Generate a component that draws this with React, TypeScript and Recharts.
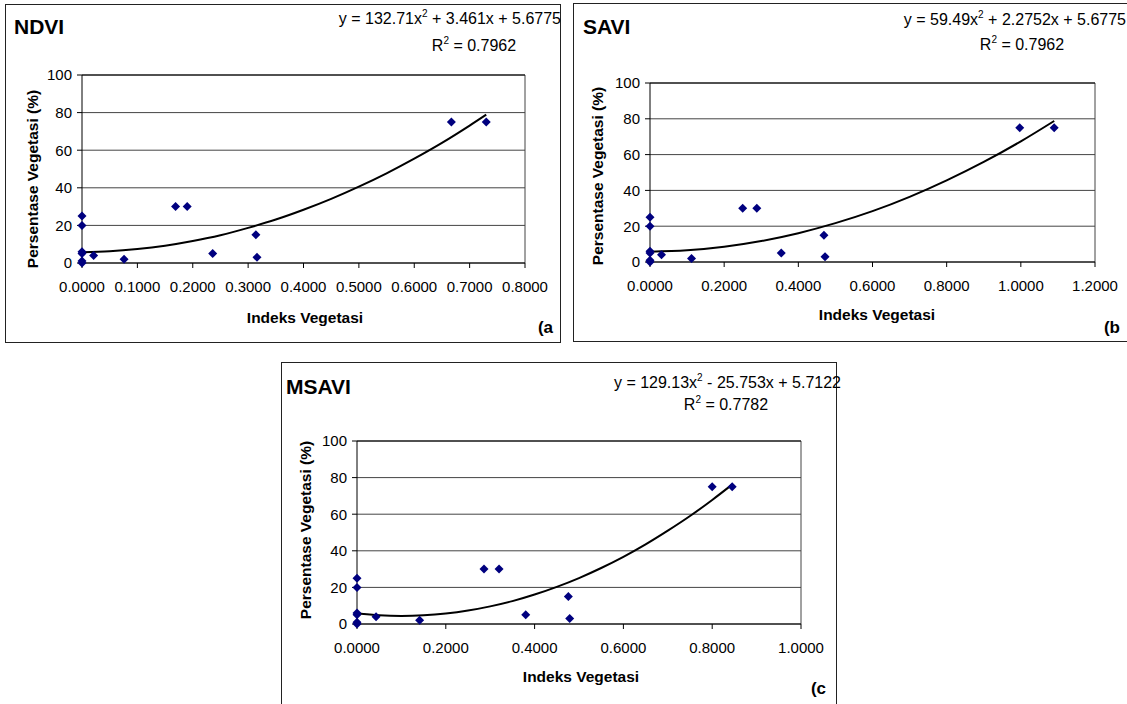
import React from 'react';
import { ScatterChart, Scatter, XAxis, YAxis, CartesianGrid, ReferenceLine } from 'recharts';

// ---------- DATA ----------
const yTicks = [0, 20, 40, 60, 80, 100];

const ndviXTicks = [0, 0.1, 0.2, 0.3, 0.4, 0.5, 0.6, 0.7, 0.8];
const ndviPoints = [
  { x: 0, y: 25 }, { x: 0, y: 20 }, { x: 0, y: 6 }, { x: 0, y: 5 }, { x: 0, y: 1 }, { x: 0, y: 0 },
  { x: 0.021, y: 4 }, { x: 0.076, y: 2 }, { x: 0.169, y: 30 }, { x: 0.19, y: 30 },
  { x: 0.236, y: 5 }, { x: 0.314, y: 15 }, { x: 0.316, y: 3 }, { x: 0.667, y: 75 }, { x: 0.73, y: 75 },
];
const ndviTrend = [
  { x: 0, y: 5.7 }, { x: 0.05, y: 6.2 }, { x: 0.1, y: 7.4 }, { x: 0.15, y: 9.2 }, { x: 0.2, y: 11.7 },
  { x: 0.25, y: 14.8 }, { x: 0.3, y: 18.7 }, { x: 0.35, y: 23.1 }, { x: 0.4, y: 28.3 }, { x: 0.45, y: 34.1 },
  { x: 0.5, y: 40.6 }, { x: 0.55, y: 47.7 }, { x: 0.6, y: 55.5 }, { x: 0.65, y: 63.9 }, { x: 0.7, y: 73.1 },
  { x: 0.73, y: 78.9 },
];

const saviXTicks = [0, 0.2, 0.4, 0.6, 0.8, 1.0, 1.2];
const saviPoints = [
  { x: 0, y: 25 }, { x: 0, y: 20 }, { x: 0, y: 6 }, { x: 0, y: 5 }, { x: 0, y: 1 }, { x: 0, y: 0 },
  { x: 0.031, y: 4 }, { x: 0.112, y: 2 }, { x: 0.25, y: 30 }, { x: 0.288, y: 30 },
  { x: 0.354, y: 5 }, { x: 0.469, y: 15 }, { x: 0.472, y: 3 }, { x: 0.997, y: 75 }, { x: 1.09, y: 75 },
];
const saviTrend = [
  { x: 0, y: 5.7 }, { x: 0.1, y: 6.5 }, { x: 0.2, y: 8.5 }, { x: 0.3, y: 11.7 }, { x: 0.4, y: 16.1 },
  { x: 0.5, y: 21.7 }, { x: 0.6, y: 28.4 }, { x: 0.7, y: 36.4 }, { x: 0.8, y: 45.6 }, { x: 0.9, y: 55.9 },
  { x: 1.0, y: 67.4 }, { x: 1.09, y: 78.8 },
];

const msaviXTicks = [0, 0.2, 0.4, 0.6, 0.8, 1.0];
const msaviPoints = [
  { x: 0, y: 25 }, { x: 0, y: 20 }, { x: 0, y: 6 }, { x: 0, y: 5 }, { x: 0, y: 1 }, { x: 0, y: 0 },
  { x: 0.043, y: 4 }, { x: 0.141, y: 2 }, { x: 0.286, y: 30 }, { x: 0.32, y: 30 },
  { x: 0.38, y: 5 }, { x: 0.476, y: 15 }, { x: 0.479, y: 3 }, { x: 0.8, y: 75 }, { x: 0.845, y: 75 },
];
const msaviTrend = [
  { x: 0, y: 5.7 }, { x: 0.05, y: 4.75 }, { x: 0.1, y: 4.43 }, { x: 0.15, y: 4.76 }, { x: 0.2, y: 5.72 },
  { x: 0.25, y: 7.34 }, { x: 0.3, y: 9.63 }, { x: 0.35, y: 12.5 }, { x: 0.4, y: 16.1 }, { x: 0.45, y: 20.3 },
  { x: 0.5, y: 25.1 }, { x: 0.55, y: 30.6 }, { x: 0.6, y: 36.7 }, { x: 0.65, y: 43.5 }, { x: 0.7, y: 51.0 },
  { x: 0.75, y: 59.0 }, { x: 0.8, y: 67.8 }, { x: 0.845, y: 76.2 },
];

// ---------- STYLE / LAYOUT ----------
const FONT = '"Liberation Sans", Arial, sans-serif';
const NAVY = '#00007F';
const Y_AXIS_W = 60;
const X_AXIS_H = 40;

const Diamond = (props: any) => {
  const { cx, cy } = props;
  if (cx == null || cy == null) return <g />;
  const r = 4.5;
  return <polygon points={`${cx},${cy - r} ${cx + r},${cy} ${cx},${cy + r} ${cx - r},${cy}`} fill={NAVY} />;
};
const NoDot = () => <g />;

type Box = { l: number; t: number; r: number; b: number };

const Txt = ({ x, y, children, size = 15, bold = false, align = 'left', rotate = false }: any) => {
  const base: React.CSSProperties = {
    position: 'absolute',
    fontFamily: FONT,
    fontSize: size,
    fontWeight: bold ? 'bold' : 'normal',
    lineHeight: 1,
    whiteSpace: 'nowrap',
    color: '#000',
  };
  if (rotate) {
    return (
      <div style={{ ...base, left: x, top: y, transform: 'translate(-50%, -50%) rotate(-90deg)' }}>{children}</div>
    );
  }
  let tf = 'translateY(-50%)';
  if (align === 'center') tf = 'translate(-50%, -50%)';
  if (align === 'right') tf = 'translate(-100%, -50%)';
  return <div style={{ ...base, left: x, top: y, transform: tf }}>{children}</div>;
};

const Sq = () => <sup style={{ fontSize: 10, verticalAlign: 'top', position: 'relative', top: -2 }}>2</sup>;

const Panel = ({ frame, plot, xMax, xTicks, points, trend, title, titlePos, eq, eqPos, r2, r2Pos, xTitlePos, yTitlePos, letter, letterPos }: any) => {
  const inner: Box = { l: frame.l + 1, t: frame.t + 1, r: frame.r - 1, b: frame.b - 1 };
  const w = inner.r - inner.l;
  const h = inner.b - inner.t;
  const margin = {
    left: plot.l - inner.l - Y_AXIS_W,
    right: inner.r - plot.r,
    top: plot.t - inner.t,
    bottom: inner.b - plot.b - X_AXIS_H,
  };
  const tick = { fill: '#000', fontSize: 15, fontFamily: FONT };
  return (
    <>
      <div
        style={{
          position: 'absolute',
          left: frame.l,
          top: frame.t,
          width: frame.r - frame.l,
          height: frame.b - frame.t,
          border: '1px solid #222',
          boxSizing: 'border-box',
          background: '#fff',
        }}
      />
      <div style={{ position: 'absolute', left: inner.l, top: inner.t, width: w, height: h }}>
        <ScatterChart width={w} height={h} margin={margin} style={{ overflow: 'visible' }}>
          <CartesianGrid horizontal vertical={false} stroke="#444" strokeWidth={1} />
          <XAxis
            type="number"
            dataKey="x"
            domain={[0, xMax]}
            ticks={xTicks}
            interval={0}
            height={X_AXIS_H}
            tickFormatter={(v: number) => v.toFixed(4)}
            tick={tick}
            tickSize={5}
            tickMargin={13}
            stroke="#000"
          />
          <YAxis
            type="number"
            dataKey="y"
            domain={[0, 100]}
            ticks={yTicks}
            interval={0}
            width={Y_AXIS_W}
            tick={tick}
            tickSize={5}
            tickMargin={5}
            stroke="#000"
          />
          <ReferenceLine x={xMax} stroke="#444" strokeWidth={1} />
          <ReferenceLine y={100} stroke="#000" strokeWidth={1} />
          <Scatter
            data={trend}
            shape={NoDot}
            line={{ stroke: '#000', strokeWidth: 2 }}
            lineJointType="monotoneX"
            legendType="none"
            isAnimationActive={false}
          />
          <Scatter data={points} shape={Diamond} isAnimationActive={false} />
        </ScatterChart>
      </div>
      <Txt x={titlePos[0]} y={titlePos[1]} size={21} bold>{title}</Txt>
      <Txt x={eqPos[0]} y={eqPos[1]} size={16} align="right">{eq}</Txt>
      <Txt x={r2Pos[0]} y={r2Pos[1]} size={16} align="center">
        R<Sq /> = {r2}
      </Txt>
      <Txt x={xTitlePos[0]} y={xTitlePos[1]} size={15.5} bold align="center">Indeks Vegetasi</Txt>
      <Txt x={yTitlePos[0]} y={yTitlePos[1]} size={15.5} bold rotate>Persentase Vegetasi (%)</Txt>
      <Txt x={letterPos[0]} y={letterPos[1]} size={17} bold align="right">{letter}</Txt>
    </>
  );
};

export default function App() {
  return (
    <div style={{ position: 'absolute', left: 0, top: 0, width: 1127, height: 704, overflow: 'hidden', background: '#fff' }}>
      <Panel
        frame={{ l: 5, t: 4, r: 561, b: 343 }}
        plot={{ l: 82, t: 75, r: 525, b: 263 }}
        xMax={0.8}
        xTicks={ndviXTicks}
        points={ndviPoints}
        trend={ndviTrend}
        title="NDVI"
        titlePos={[14, 26]}
        eq={<>y = 132.71x<Sq /> + 3.461x + 5.6775</>}
        eqPos={[561, 19]}
        r2="0.7962"
        r2Pos={[474, 46]}
        xTitlePos={[305, 318]}
        yTitlePos={[33, 179]}
        letter="(a"
        letterPos={[553, 327]}
      />
      <Panel
        frame={{ l: 573, t: 3, r: 1135, b: 342 }}
        plot={{ l: 650, t: 83, r: 1095, b: 262 }}
        xMax={1.2}
        xTicks={saviXTicks}
        points={saviPoints}
        trend={saviTrend}
        title="SAVI"
        titlePos={[583, 26]}
        eq={<>y = 59.49x<Sq /> + 2.2752x + 5.6775</>}
        eqPos={[1126, 20]}
        r2="0.7962"
        r2Pos={[1022, 45]}
        xTitlePos={[877, 315]}
        yTitlePos={[598, 176]}
        letter="(b"
        letterPos={[1120, 327]}
      />
      <Panel
        frame={{ l: 281, t: 362, r: 837, b: 720 }}
        plot={{ l: 357, t: 441, r: 801, b: 624 }}
        xMax={1.0}
        xTicks={msaviXTicks}
        points={msaviPoints}
        trend={msaviTrend}
        title="MSAVI"
        titlePos={[286, 386]}
        eq={<>y = 129.13x<Sq /> - 25.753x + 5.7122</>}
        eqPos={[841, 383]}
        r2="0.7782"
        r2Pos={[726, 405]}
        xTitlePos={[581, 677]}
        yTitlePos={[306, 530]}
        letter="(c"
        letterPos={[826, 688]}
      />
    </div>
  );
}
